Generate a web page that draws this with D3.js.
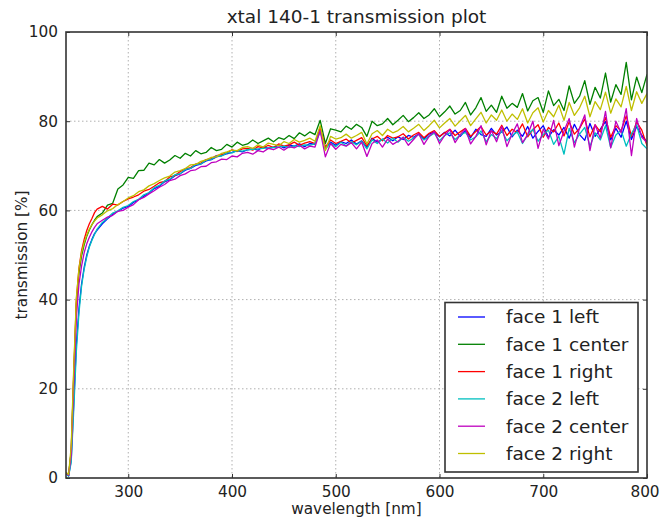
<!DOCTYPE html>
<html>
<head>
<meta charset="utf-8">
<script src="https://cdn.jsdelivr.net/npm/d3@7"></script>
<style>
  html, body { margin: 0; padding: 0; background: #fff; }
  svg { display: block; }
  text { font-family: "DejaVu Sans", sans-serif; fill: #222; }
</style>
</head>
<body>
<svg id="chart" width="660" height="518"></svg>
<script>
const title = "xtal 140-1 transmission plot";
const xLabel = "wavelength [nm]";
const yLabel = "transmission [%]";
const xTicks = [300, 400, 500, 600, 700, 800];
const yTicks = [0, 20, 40, 60, 80, 100];

const wavelengths = [
  240, 242.5, 245, 247.5, 250, 252.5, 255, 257.5, 260, 262.5, 265, 267.5, 270,
  275, 280, 285, 290, 295, 300, 305, 310, 315, 320,
  325, 330, 335, 340, 345, 350, 355, 360, 365, 370,
  375, 380, 385, 390, 395, 400, 405, 410, 415, 420,
  425, 430, 435, 440, 445, 450, 455, 460, 465, 470,
  475, 480, 485, 490, 495, 500, 505, 510, 515, 520,
  525, 530, 535, 540, 545, 550, 555, 560, 565, 570,
  575, 580, 585, 590, 595, 600, 605, 610, 615, 620,
  625, 630, 635, 640, 645, 650, 655, 660, 665, 670,
  675, 680, 685, 690, 695, 700, 705, 710, 715, 720,
  725, 730, 735, 740, 745, 750, 755, 760, 765, 770,
  775, 780, 785, 790, 795, 800
];

const face1Left = [
  1.0, 0.5, 4, 17, 30, 38, 43.5, 47.2, 50, 52, 53.5, 54.8, 55.6,
  57.0, 58.1, 59.1, 59.8, 60.5, 60.9, 61.8, 62.4, 63.2, 63.9,
  64.9, 65.4, 66.4, 66.9, 67.8, 68.2, 69.0, 69.4, 70.1, 70.4,
  71.1, 71.4, 72.0, 72.3, 72.7, 73.0, 73.4, 73.1, 73.6, 73.8,
  73.5, 74.3, 73.9, 74.2, 74.6, 74.0, 74.7, 74.4, 74.9, 74.3,
  75.0, 74.8, 78.1, 73.9, 75.3, 74.6, 75.4, 75.0, 75.8, 74.9,
  75.6, 74.1, 76.2, 75.3, 75.9, 76.4, 75.6, 76.5, 75.9, 76.8,
  76.4, 77.2, 76.0, 77.1, 77.6, 76.5, 77.5, 76.7, 78.0, 76.6,
  77.9, 76.3, 78.2, 77.0, 76.6, 78.4, 76.9, 77.6, 78.7, 76.5,
  78.0, 76.6, 78.8, 76.2, 77.7, 79.0, 76.4, 78.1, 76.9, 78.6,
  76.2, 79.3, 77.0, 75.7, 79.5, 76.6, 78.2, 79.9, 75.8, 78.4,
  76.4, 80.0, 75.9, 78.8, 76.8, 75.4
];

const face1Center = [
  1.2, 0.7, 6, 23, 39, 46, 49.8, 52.3, 54.2, 55.6, 56.8, 57.8, 58.6,
  59.4, 61.2, 61.6, 64.8, 65.7, 67.4, 67.2, 68.9, 69.0, 70.6,
  70.2, 71.4, 70.6, 71.3, 72.3, 71.7, 72.8, 72.2, 73.4, 72.7,
  73.0, 74.1, 73.4, 73.7, 74.8, 74.2, 75.3, 74.6, 74.9, 75.8,
  75.0, 75.6, 76.2, 75.4, 76.3, 75.9, 76.8, 76.1, 77.4, 76.7,
  77.6, 77.0, 80.2, 75.0, 78.3, 78.0, 77.6, 78.9, 78.2, 79.3,
  78.6, 76.6, 80.0, 79.0, 79.4, 80.6, 79.2, 80.2, 81.3, 79.9,
  80.8, 81.9, 80.6, 81.4, 82.8, 81.0, 82.1, 83.4, 81.6, 82.4,
  84.2, 81.4, 83.0, 85.3, 82.2, 83.6, 82.0, 85.6, 82.9, 84.0,
  83.1, 86.2, 82.3, 84.6, 85.3, 82.0, 86.8, 83.5, 84.9, 82.4,
  87.9, 84.0, 85.6, 89.1, 83.8, 87.6, 85.2, 90.8, 84.3, 88.2,
  86.0, 93.2, 84.8, 89.9, 86.4, 90.5
];

const face1Right = [
  1.2, 0.6, 6, 24, 40, 47, 51, 53.5, 55.5, 57, 58.2, 59.5, 60.3,
  60.9, 60.3, 61.4, 61.2, 62.0, 62.6, 63.0, 63.5, 64.3, 64.7,
  65.4, 66.2, 66.5, 67.5, 67.8, 68.7, 69.3, 69.6, 70.4, 70.6,
  71.4, 71.6, 72.3, 72.5, 72.9, 73.6, 73.2, 73.8, 73.9, 73.5,
  74.3, 74.0, 74.6, 74.1, 74.9, 74.4, 74.7, 75.3, 74.6, 75.1,
  75.4, 75.0, 78.6, 74.2, 75.8, 75.0, 75.5, 76.0, 75.1, 75.7,
  76.3, 74.5, 76.0, 76.6, 75.6, 76.8, 76.2, 76.5, 77.2, 76.0,
  76.9, 77.5, 76.3, 77.3, 77.9, 76.6, 77.4, 78.2, 76.8, 77.6,
  78.4, 76.6, 77.7, 78.8, 76.9, 77.8, 77.1, 79.1, 76.8, 78.2,
  77.4, 79.4, 76.5, 78.1, 79.2, 76.4, 78.6, 77.6, 79.6, 76.7,
  79.9, 77.1, 78.4, 80.5, 76.5, 79.2, 77.6, 80.8, 76.4, 79.0,
  77.8, 81.2, 76.6, 79.8, 78.0, 74.5
];

const face2Left = [
  1.0, 0.4, 3.5, 15.5, 28.5, 37, 43, 46.8, 49.6, 51.8, 53.3, 54.6, 55.8,
  57.3, 58.3, 59.4, 59.9, 60.7, 61.1, 62.0, 62.5, 63.5, 64.0,
  65.1, 65.6, 66.6, 67.0, 68.0, 68.2, 69.2, 69.4, 70.3, 70.4,
  71.3, 71.4, 72.2, 72.2, 72.9, 72.9, 73.4, 73.3, 73.6, 73.7,
  73.8, 73.9, 74.0, 74.1, 74.2, 74.4, 74.1, 74.5, 74.3, 74.7,
  74.6, 74.9, 77.7, 73.7, 75.1, 74.3, 75.3, 74.5, 75.4, 74.7,
  75.5, 73.8, 75.8, 75.0, 76.0, 75.1, 76.2, 75.3, 76.4, 75.5,
  76.2, 77.0, 75.8, 76.6, 77.3, 75.6, 76.8, 77.4, 75.9, 76.9,
  77.5, 75.8, 76.5, 77.8, 75.4, 77.0, 76.1, 77.9, 75.6, 76.8,
  77.6, 75.0, 76.9, 78.2, 75.5, 77.0, 78.0, 74.8, 76.6, 72.6,
  78.4, 75.2, 77.1, 78.6, 74.4, 77.4, 75.8, 79.0, 74.1, 76.9,
  78.0, 74.4, 77.2, 79.2, 75.0, 73.8
];

const face2Center = [
  1.1, 0.6, 5, 21, 36, 43.5, 47.5, 50.5, 52.5, 54, 55.2, 56.2, 57.0,
  57.8, 58.5, 58.9, 59.8, 60.0, 60.7, 61.3, 62.4, 62.9, 63.7,
  64.4, 65.2, 65.8, 66.7, 67.0, 67.8, 68.2, 68.9, 69.1, 69.8,
  69.9, 70.7, 70.9, 71.5, 71.4, 72.2, 72.0, 72.8, 73.0, 72.6,
  73.4, 73.1, 73.9, 73.6, 74.2, 73.5, 74.3, 74.0, 74.6, 73.8,
  74.4, 74.2, 77.9, 72.0, 75.0, 73.7, 74.8, 74.4, 75.2, 73.8,
  75.3, 72.1, 75.0, 75.8, 74.2, 76.0, 74.8, 75.5, 76.4, 74.6,
  75.9, 77.2, 74.8, 76.6, 77.7, 75.0, 76.8, 78.1, 75.2, 77.0,
  78.3, 74.9, 76.6, 79.0, 74.7, 77.9, 75.4, 78.8, 74.3, 77.2,
  79.4, 75.2, 77.0, 80.0, 73.9, 78.2, 76.0, 80.2, 74.5, 77.8,
  80.6, 74.2, 78.5, 81.4, 73.4, 79.2, 76.2, 82.2, 74.0, 80.0,
  77.4, 82.8, 72.3, 80.6, 76.4, 75.2
];

const face2Right = [
  1.3, 0.8, 7, 25, 40.5, 47, 50.5, 52.8, 54.5, 55.8, 56.8, 57.6, 58.3,
  59.0, 59.9, 60.4, 61.3, 62.0, 62.8, 63.3, 64.2, 64.6, 65.5,
  66.0, 66.7, 67.3, 67.7, 68.6, 68.9, 69.4, 70.2, 70.3, 71.0,
  71.3, 71.9, 72.0, 72.8, 73.1, 73.5, 73.4, 74.1, 74.3, 73.9,
  74.7, 74.2, 75.1, 74.8, 74.5, 75.4, 75.0, 75.9, 75.3, 75.7,
  76.2, 75.5, 79.0, 73.4, 76.6, 76.0, 76.3, 77.1, 76.2, 76.8,
  77.5, 74.9, 77.2, 77.9, 76.8, 78.2, 77.4, 77.9, 78.8, 77.6,
  78.4, 79.3, 77.9, 79.0, 80.2, 78.5, 79.6, 80.6, 78.9, 80.1,
  81.3, 79.0, 80.5, 82.0, 79.6, 81.4, 80.2, 82.5, 80.0, 81.6,
  80.4, 82.8, 79.6, 81.9, 83.0, 79.8, 82.4, 81.0, 83.6, 80.2,
  84.2, 81.3, 83.0, 85.6, 81.0, 84.4, 82.6, 86.5, 81.8, 85.0,
  83.2, 87.8, 82.4, 86.6, 84.0, 86.2
];

const seriesNames = ["face 1 left", "face 1 center", "face 1 right", "face 2 left", "face 2 center", "face 2 right"];
const seriesValues = [face1Left, face1Center, face1Right, face2Left, face2Center, face2Right];
const seriesColors = ["#0000ff", "#008000", "#ff0000", "#00bfbf", "#bf00bf", "#bfbf00"];

const svg = d3.select("#chart");
const m = { left: 66, right: 647, top: 32, bottom: 478 };

const x = d3.scaleLinear().domain([240, 800]).range([m.left, m.right]);
const y = d3.scaleLinear().domain([0, 100]).range([m.bottom, m.top]);

// grid
const grid = svg.append("g");
grid.selectAll("line.gx").data(xTicks.filter(t => t < 800)).enter().append("line")
  .attr("x1", d => x(d)).attr("x2", d => x(d))
  .attr("y1", m.top).attr("y2", m.bottom)
  .attr("stroke", "#b0b0b0").attr("stroke-width", 1).attr("stroke-dasharray", "1.5,2.5");
grid.selectAll("line.gy").data(yTicks.filter(t => t > 0 && t < 100)).enter().append("line")
  .attr("x1", m.left).attr("x2", m.right)
  .attr("y1", d => y(d)).attr("y2", d => y(d))
  .attr("stroke", "#b0b0b0").attr("stroke-width", 1).attr("stroke-dasharray", "1.5,2.5");

// clip
svg.append("clipPath").attr("id", "clip").append("rect")
  .attr("x", m.left).attr("y", m.top).attr("width", m.right - m.left).attr("height", m.bottom - m.top);

const line = d3.line().x((d, i) => x(wavelengths[i])).y(d => y(d));
const lines = svg.append("g").attr("clip-path", "url(#clip)");
seriesValues.forEach((vals, k) => {
  lines.append("path").datum(vals)
    .attr("d", line)
    .attr("fill", "none")
    .attr("stroke", seriesColors[k])
    .attr("stroke-width", 1.3)
    .attr("stroke-linejoin", "round");
});

// axes (ticks inside, on all sides)
const fontSize = 15.3;
const axB = d3.axisBottom(x).tickValues(xTicks).tickSize(-4).tickPadding(8);
const axT = d3.axisTop(x).tickValues(xTicks).tickSize(-4).tickFormat("");
const axL = d3.axisLeft(y).tickValues(yTicks).tickSize(-4).tickPadding(8);
const axR = d3.axisRight(y).tickValues(yTicks).tickSize(-4).tickFormat("");

function styleAxis(g) {
  g.select(".domain").remove();
  g.selectAll(".tick line").attr("stroke", "#333").attr("stroke-width", 1);
  g.selectAll(".tick text").attr("font-size", fontSize).attr("fill", "#222")
    .attr("font-family", "DejaVu Sans, sans-serif");
}
const gB = svg.append("g").attr("transform", `translate(0,${m.bottom})`).call(axB).call(styleAxis);
gB.selectAll(".tick text").filter(d => d === 800).attr("dx", -2.5);
svg.append("g").attr("transform", `translate(0,${m.top})`).call(axT).call(styleAxis);
svg.append("g").attr("transform", `translate(${m.left},0)`).call(axL).call(styleAxis);
svg.append("g").attr("transform", `translate(${m.right},0)`).call(axR).call(styleAxis);

// frame
svg.append("rect")
  .attr("x", m.left).attr("y", m.top)
  .attr("width", m.right - m.left).attr("height", m.bottom - m.top)
  .attr("fill", "none").attr("stroke", "#333").attr("stroke-width", 1.6);

// title and labels
svg.append("text").attr("x", (m.left + m.right) / 2).attr("y", 23)
  .attr("text-anchor", "middle").attr("font-size", 18.5).text(title);
svg.append("text").attr("x", (m.left + m.right) / 2).attr("y", 513.5)
  .attr("text-anchor", "middle").attr("font-size", fontSize).text(xLabel);
svg.append("text")
  .attr("transform", `translate(27,${(m.top + m.bottom) / 2}) rotate(-90)`)
  .attr("text-anchor", "middle").attr("font-size", fontSize).text(yLabel);

// legend
const lg = svg.append("g");
lg.append("rect").attr("x", 445).attr("y", 302.5).attr("width", 193).attr("height", 169.5)
  .attr("fill", "#fff").attr("stroke", "#333").attr("stroke-width", 1.6);
seriesNames.forEach((name, k) => {
  const yy = 317 + k * 27.3;
  lg.append("line").attr("x1", 458).attr("x2", 485).attr("y1", yy).attr("y2", yy)
    .attr("stroke", seriesColors[k]).attr("stroke-width", 1.3);
  lg.append("text").attr("x", 506).attr("y", yy).attr("dy", "0.35em")
    .attr("font-size", 18.5).text(name);
});
</script>
</body>
</html>
